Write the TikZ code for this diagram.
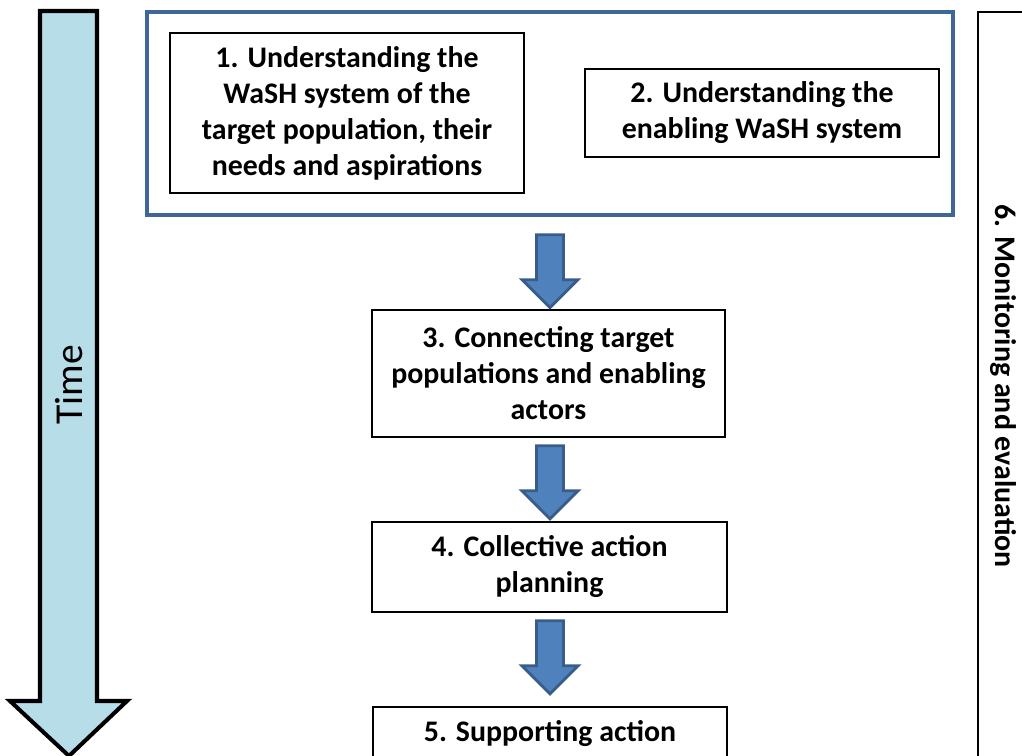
\documentclass[tikz,border=0pt]{standalone}
\usepackage{fontspec}
\setmainfont{Carlito}
\usetikzlibrary{positioning, calc}
\definecolor{cTime}{RGB}{183,221,232}
\definecolor{cArrow}{RGB}{79,129,189}
\definecolor{cArrowEdge}{RGB}{56,93,138}
\definecolor{cFrame}{RGB}{63,102,152}

\begin{document}
\begin{tikzpicture}[x=0.02cm, y=-0.02cm,
    stagebox/.style={draw, line width=0.9pt, align=center, inner sep=0pt,
        font=\bfseries\fontsize{17}{20.5}\selectfont},
    flowarrow/.style={draw=cArrowEdge, fill=cArrow, line width=1.6pt, line join=miter}]
    \clip (0,0) rectangle (1022,756);

    % Time arrow on the left
    \draw[fill=cTime, line width=2.3pt, line join=miter]
        (40,11) -- (97,11) -- (97,701) -- (127,701) -- (69,756) -- (10,701) -- (40,701) -- cycle;
    \node[rotate=90, font=\fontsize{22.5}{27}\selectfont] (time) at (69,385) {Time};

    % Understanding phase (frame with stages 1 and 2)
    \node[draw=cFrame, line width=2pt, minimum width=16.12cm, minimum height=4.06cm] (frame) at (550,113.5) {};
    \node[stagebox, minimum width=7.08cm, minimum height=3.2cm] (s1) at (347,113)
        {1. Understanding the\\WaSH system of the\\target population, their\\needs and aspirations};
    \node[stagebox, minimum width=7.08cm, minimum height=1.76cm] (s2) at (762,113)
        {2. Understanding the\\enabling WaSH system};

    % Stages 3 to 5
    \node[stagebox, minimum width=7.06cm, minimum height=2.54cm] (s3) at (548.5,373.5)
        {3. Connecting target\\populations and enabling\\actors};
    \node[stagebox, minimum width=7.1cm, minimum height=1.8cm] (s4) at (549.5,567)
        {4. Collective action\\planning};
    \node[stagebox, anchor=north, minimum width=7.08cm, inner ysep=0.25cm,
        text height=0.45cm, text depth=1.5cm] (s5) at (550,706) {5. Supporting action};

    % Block arrows between the stages
    \foreach \from/\gap in {frame/18, s3/8, s4/8}
        \draw[flowarrow] ($(\from.south -| frame.south)+(0,\gap)$) ++(-13.5,0) -- ++(27,0) -- ++(0,45)
            -- ++(14.5,0) -- ++(-28,28) -- ++(-28,-28) -- ++(14.5,0) -- cycle;

    % Monitoring and evaluation along the right
    \node[draw, line width=1.2pt, rotate=-90, minimum width=14.96cm, minimum height=1cm,
        font=\bfseries\fontsize{17}{20.5}\selectfont] (s6) at (1003,386) {6. Monitoring and evaluation};
\end{tikzpicture}
\end{document}
